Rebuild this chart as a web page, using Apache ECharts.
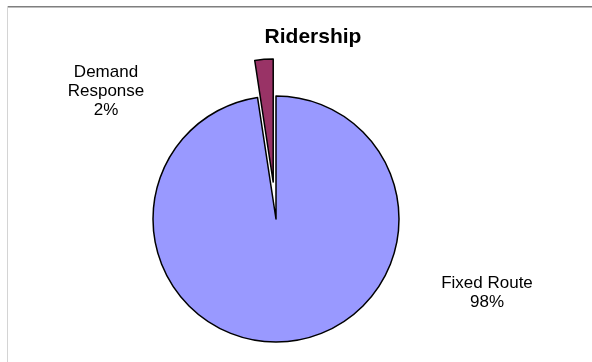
<!DOCTYPE html>
<html>
<head>
<meta charset="utf-8">
<script src="https://cdn.jsdelivr.net/npm/echarts@6/dist/echarts.min.js"></script>
<style>
html, body { margin: 0; padding: 0; background: #fff; }
#pie { width: 592px; height: 362px; }
</style>
</head>
<body>
<div id="pie"></div>
<script>
// ridership share by mode
const modes = ['Fixed Route', 'Demand Response'];
const shares = [97.6, 2.4];

const colors = ['#9999FF', '#993366'];
// where Excel put the labels (centre of the text block)
const labelPos = [[487, 293], [106, 91]];

let total = shares.reduce(function (a, b) { return a + b; }, 0);
let labelTexts = modes.map(function (m, i) {
    let name = i === 1 ? m.replace(' ', '\n') : m;
    return name + '\n' + Math.round(shares[i] / total * 100) + '%';
});

let frame = [
    { type: 'line', shape: { x1: 8, y1: 6.5, x2: 592, y2: 6.5 }, style: { stroke: '#7f7f7f', lineWidth: 1 } },
    { type: 'line', shape: { x1: 8, y1: 7.5, x2: 592, y2: 7.5 }, style: { stroke: '#bdbdbd', lineWidth: 1 } },
    { type: 'line', shape: { x1: 7.5, y1: 6, x2: 7.5, y2: 362 }, style: { stroke: '#d4d4d4', lineWidth: 1 } }
];
let labels = labelTexts.map(function (t, i) {
    return {
        type: 'text',
        x: labelPos[i][0],
        y: labelPos[i][1],
        style: {
            text: t,
            fontFamily: 'Liberation Sans, Arial',
            fontSize: 17,
            lineHeight: 19,
            fill: '#000',
            align: 'center',
            verticalAlign: 'middle'
        }
    };
});

let myChart = echarts.init(document.getElementById('pie'));
myChart.setOption({
    animation: false,
    title: {
        text: 'Ridership',
        left: 308,
        top: 22,
        textAlign: 'center',
        textStyle: {
            fontFamily: 'Liberation Sans, Arial',
            fontSize: 21,
            fontWeight: 'bold',
            color: '#000'
        }
    },
    graphic: frame.concat(labels),
    series: [{
        type: 'pie',
        center: [276, 219],
        radius: 123,
        startAngle: 90,
        clockwise: true,
        selectedMode: 'single',
        selectedOffset: 37,
        emphasis: { disabled: true },
        itemStyle: { borderColor: '#000', borderWidth: 1.5 },
        label: { show: false },
        labelLine: { show: false },
        data: modes.map(function (m, i) {
            return {
                name: m,
                value: shares[i],
                selected: i === 1,
                itemStyle: { color: colors[i] }
            };
        })
    }]
});
</script>
</body>
</html>
